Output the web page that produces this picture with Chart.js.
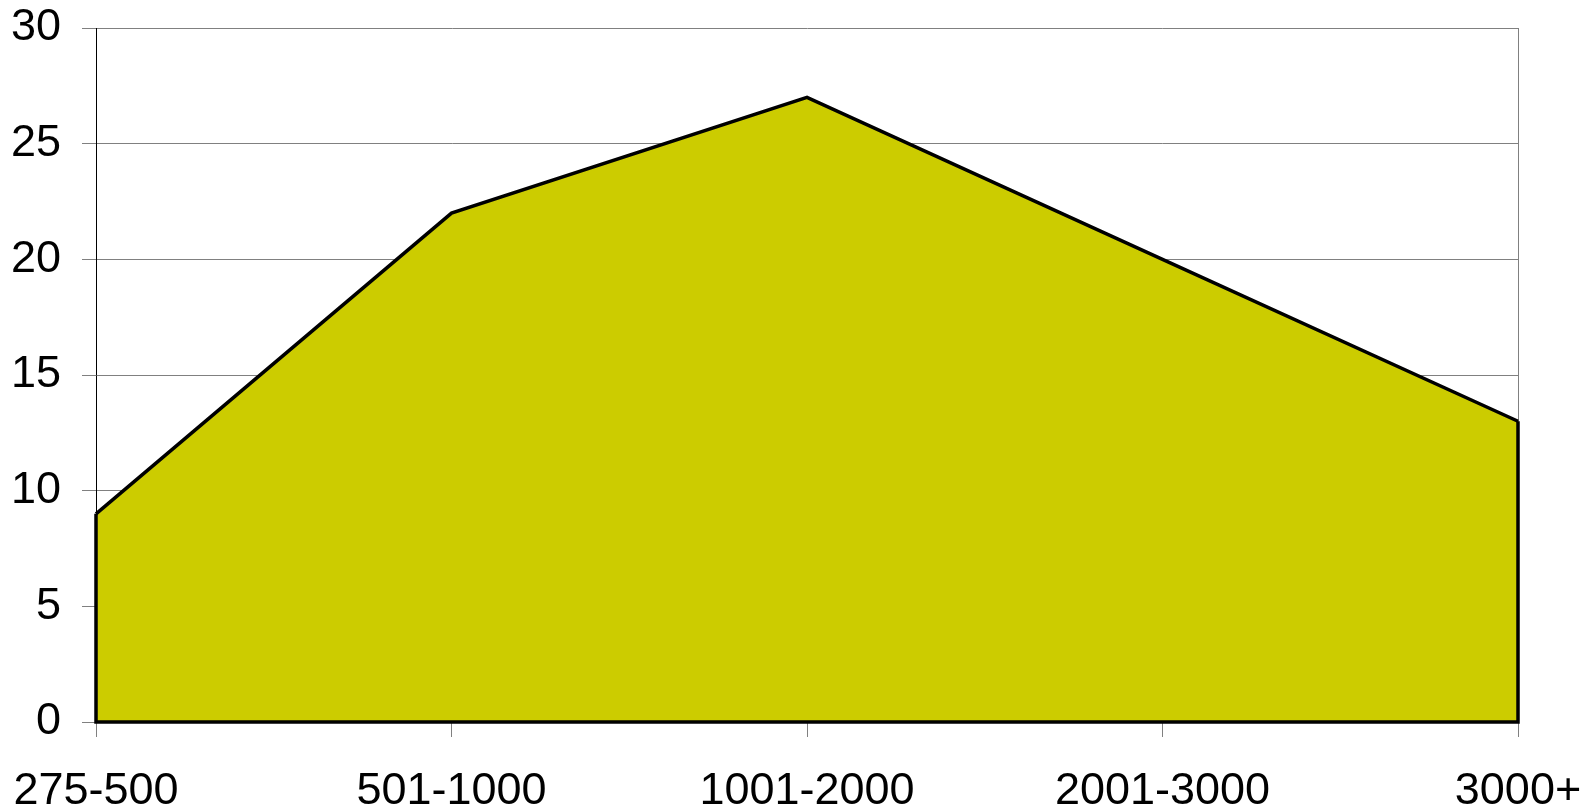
<!DOCTYPE html>
<html>
<head>
<meta charset="utf-8">
<script src="https://cdn.jsdelivr.net/npm/chart.js@4.4.1/dist/chart.umd.min.js"></script>
<style>
  html, body { margin: 0; padding: 0; background: #fff; }
  #wrap { width: 1591px; height: 812px; position: relative; }
</style>
</head>
<body>
<div id="wrap"><canvas id="myChart" width="1591" height="812"></canvas></div>
<script>
const categorias = ['275-500', '501-1000', '1001-2000', '2001-3000', '3000+'];
const valores = [9, 22, 27, 20, 13];
const yMin = 0;
const yMax = 30;
const yPaso = 5;

// cierra el contorno del área: bajadas a los lados y línea base
const contorno = {
    id: 'contorno',
    afterDatasetsDraw(chart) {
        const meta = chart.getDatasetMeta(0);
        const pts = meta.data;
        const base = chart.scales.y.getPixelForValue(0);
        const ctx = chart.ctx;
        ctx.save();
        ctx.strokeStyle = '#000';
        ctx.lineWidth = 3.5;
        ctx.lineJoin = 'miter';
        ctx.beginPath();
        ctx.moveTo(pts[0].x, pts[0].y);
        ctx.lineTo(pts[0].x, base);
        ctx.lineTo(pts[pts.length - 1].x, base);
        ctx.lineTo(pts[pts.length - 1].x, pts[pts.length - 1].y);
        ctx.stroke();
        ctx.restore();
    }
};

const ctx = document.getElementById('myChart').getContext('2d');
new Chart(ctx, {
    type: 'line',
    data: {
        labels: categorias,
        datasets: [{
            data: valores,
            fill: 'origin',
            backgroundColor: '#cccc00',
            borderColor: '#000',
            borderWidth: 3.5,
            pointRadius: 0,
            tension: 0
        }]
    },
    options: {
        responsive: false,
        animation: false,
        layout: { padding: { top: 28, right: 73, bottom: 0, left: 0 } },
        plugins: { legend: { display: false }, tooltip: { enabled: false } },
        scales: {
            x: {
                offset: false,
                grid: {
                    color: ctx => ctx.index === categorias.length - 1 ? '#808080' : 'rgba(0,0,0,0)',
                    tickColor: '#808080',
                    tickLength: 15,
                    lineWidth: 1
                },
                border: { color: '#808080', width: 1 },
                ticks: {
                    color: '#000',
                    font: { family: 'Liberation Sans, Arial, sans-serif', size: 45 },
                    padding: 28,
                    maxRotation: 0,
                    autoSkip: false
                },
                afterFit: scale => {
                    scale.height = 90;
                    scale.paddingLeft = 0;
                    scale.paddingRight = 0;
                }
            },
            y: {
                min: yMin,
                max: yMax,
                grid: {
                    color: '#808080',
                    tickColor: '#808080',
                    tickLength: 14,
                    lineWidth: 1
                },
                border: { color: '#000', width: 1 },
                ticks: {
                    stepSize: yPaso,
                    color: '#000',
                    font: { family: 'Liberation Sans, Arial, sans-serif', size: 45 },
                    padding: 21
                },
                afterFit: scale => {
                    scale.width = 96;
                    scale.paddingTop = 0;
                    scale.paddingBottom = 0;
                }
            }
        }
    },
    plugins: [contorno]
});
</script>
</body>
</html>
